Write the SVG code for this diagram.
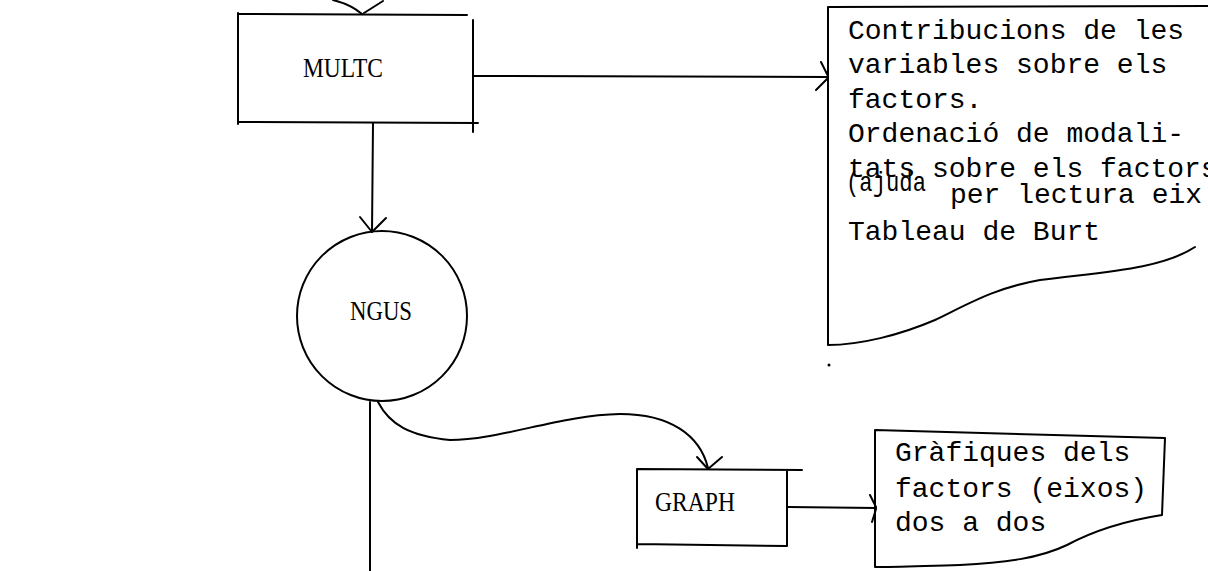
<svg xmlns="http://www.w3.org/2000/svg" width="1208" height="571" viewBox="0 0 1208 571">
<style>
.ln{fill:none;stroke:#000;stroke-width:2;stroke-linecap:round;stroke-linejoin:round}
.lbl{font-family:"Liberation Serif","Times New Roman",serif;font-size:27px;fill:#000}
.tw{font-family:"Liberation Mono","Courier New",monospace;font-size:28px;fill:#000}
</style>
<rect width="1208" height="571" fill="#fff"/>
<g id="connectors">
  <path class="ln" d="M333,0 C345,3 355,8 362,14"/>
  <path class="ln" d="M383,1 L364,13"/>
  <path class="ln" d="M473,76 L828,77"/>
  <path class="ln" d="M821,62 L828,76 M816,90 L828,78"/>
  <path class="ln" d="M373,123 L372,232"/>
  <path class="ln" d="M360,217 L372,232 L386,218"/>
  <path class="ln" d="M370,402 L370,571"/>
  <path class="ln" d="M378,402 C390,425 410,436 450,440 C500,440 560,415 620,414 C670,414 700,435 708,468"/>
  <path class="ln" d="M697,457 L708,469 L722,457"/>
  <path class="ln" d="M788,507 L876,508"/>
  <path class="ln" d="M870,495 L876,507 M872,522 L876,509"/>
</g>
<g id="multc">
  <path class="ln" d="M238,13 L238,124 M238,14 L467,15 M473,20 L473,132 M238,122 L478,123"/>
  <text class="lbl" x="303" y="77" textLength="80" lengthAdjust="spacingAndGlyphs">MULTC</text>
</g>
<g id="ngus">
  <circle class="ln" cx="382" cy="316" r="85"/>
  <text class="lbl" x="350" y="320" textLength="62" lengthAdjust="spacingAndGlyphs">NGUS</text>
</g>
<g id="graph">
  <path class="ln" d="M637,469 L637,548 M637,469 L802,470 M787,470 L787,546 M637,544 L787,546"/>
  <text class="lbl" x="655" y="511" textLength="80" lengthAdjust="spacingAndGlyphs">GRAPH</text>
</g>
<g id="note-contribucions">
  <path class="ln" d="M828,7 L1208,6 M828,7 L828,345 M828,345 C860,345 900,335 935,320 C970,303 995,288 1040,280 C1100,272 1160,270 1195,247"/>
  <text class="tw" x="848" y="39">Contribucions de les</text>
  <text class="tw" x="848" y="73">variables sobre els</text>
  <text class="tw" x="848" y="108">factors.</text>
  <text class="tw" x="848" y="142">Ordenació de modali-</text>
  <text class="tw" x="848" y="177">tats sobre els factors</text>
  <text class="tw" x="846" y="191" textLength="80" lengthAdjust="spacingAndGlyphs">(ajuda</text>
  <text class="tw" x="950" y="203">per lectura eix</text>
  <text class="tw" x="848" y="240">Tableau de Burt</text>
  <circle cx="829" cy="365" r="1.5" fill="#000"/>
</g>
<g id="note-grafiques">
  <path class="ln" d="M875,430 L1165,438 L1162,515 C1130,520 1095,530 1067,545 C1040,558 1005,563 960,565 C920,566 895,567 875,567 Z"/>
  <text class="tw" x="895" y="461">Gràfiques dels</text>
  <text class="tw" x="895" y="497">factors (eixos)</text>
  <text class="tw" x="895" y="531">dos a dos</text>
</g>
</svg>
